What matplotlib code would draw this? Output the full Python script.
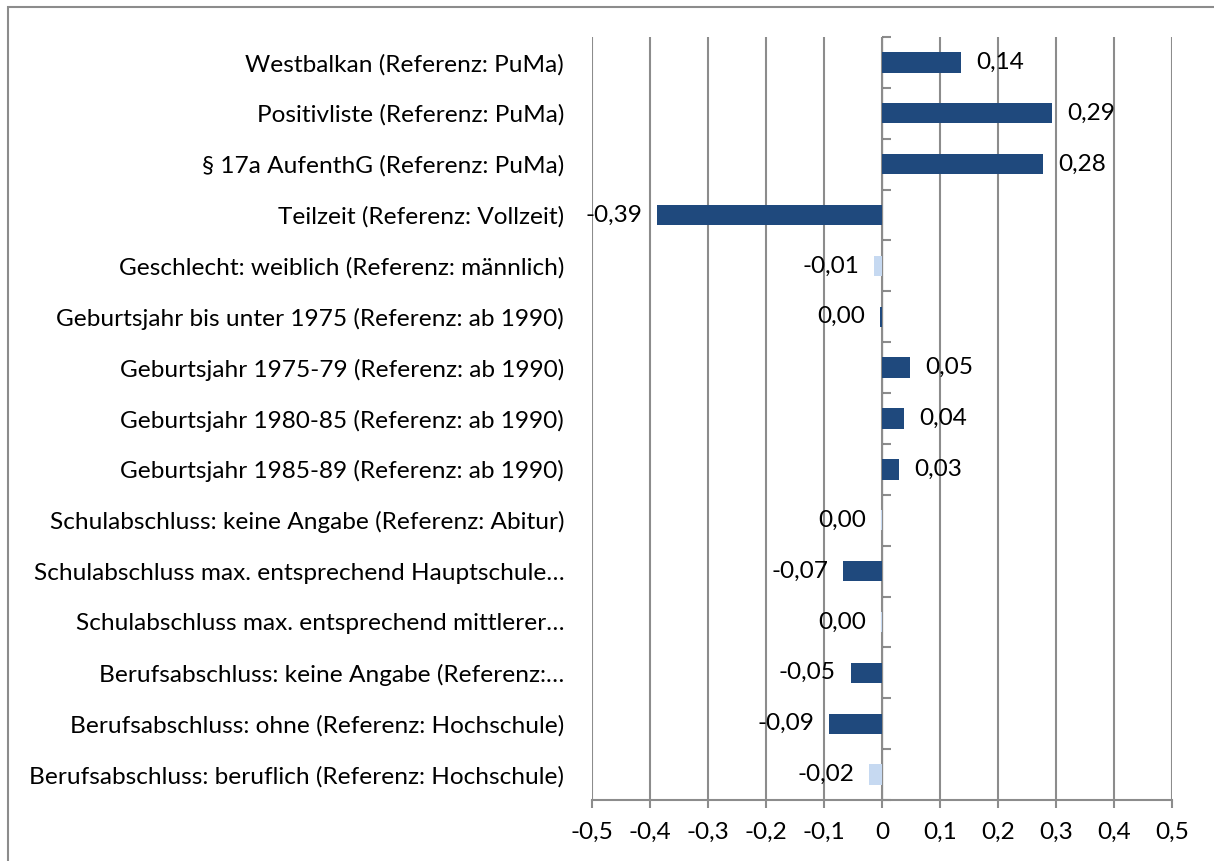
import matplotlib
matplotlib.use("Agg")
import matplotlib.pyplot as plt
from matplotlib.patches import Rectangle
import numpy as np

categories = [
    "Westbalkan (Referenz: PuMa)",
    "Positivliste (Referenz: PuMa)",
    "§ 17a AufenthG (Referenz: PuMa)",
    "Teilzeit (Referenz: Vollzeit)",
    "Geschlecht: weiblich (Referenz: männlich)",
    "Geburtsjahr bis unter 1975 (Referenz: ab 1990)",
    "Geburtsjahr 1975-79 (Referenz: ab 1990)",
    "Geburtsjahr 1980-85 (Referenz: ab 1990)",
    "Geburtsjahr 1985-89 (Referenz: ab 1990)",
    "Schulabschluss: keine Angabe (Referenz: Abitur)",
    "Schulabschluss max. entsprechend Hauptschule…",
    "Schulabschluss max. entsprechend mittlerer…",
    "Berufsabschluss: keine Angabe (Referenz:…",
    "Berufsabschluss: ohne (Referenz: Hochschule)",
    "Berufsabschluss: beruflich (Referenz: Hochschule)",
]
values = [0.136, 0.293, 0.278, -0.388, -0.014, -0.003, 0.048, 0.038, 0.029,
          -0.001, -0.067, -0.002, -0.054, -0.091, -0.022]
value_labels = ["0,14", "0,29", "0,28", "-0,39", "-0,01", "0,00", "0,05", "0,04",
                "0,03", "0,00", "-0,07", "0,00", "-0,05", "-0,09", "-0,02"]
significant = [True, True, True, True, False, True, True, True, True,
               False, True, False, True, True, False]
xticks = [-0.5, -0.4, -0.3, -0.2, -0.1, 0.0, 0.1, 0.2, 0.3, 0.4, 0.5]
xtick_labels = ["-0,5", "-0,4", "-0,3", "-0,2", "-0,1", "0", "0,1", "0,2", "0,3", "0,4", "0,5"]

DARK = "#1F497D"
LIGHT = "#C6D9F1"
GRID = "#8C8C8C"
FONT = "Lato"
FS = 17.6

W, H = 1214, 861
fig = plt.figure(figsize=(W / 100, H / 100), dpi=100)
fig.patch.set_facecolor("white")
# outer chart border
fig.add_artist(Rectangle((8 / W, -0.05), 1.1, 1 - 7 / H + 0.05, transform=fig.transFigure,
                         fill=False, edgecolor=GRID, linewidth=1.5))

ax = fig.add_axes([592 / W, 1 - 800 / H, 580 / W, 763 / H])
y = np.arange(len(categories))
colors = [DARK if s else LIGHT for s in significant]
ax.barh(y, values, height=0.4, color=colors, zorder=3)

ax.set_xlim(-0.5, 0.5)
ax.set_ylim(len(categories) - 0.5, -0.5)
ax.set_xticks(xticks)
ax.set_xticklabels(xtick_labels, fontsize=FS, family=FONT)
ax.xaxis.grid(True, color=GRID, linewidth=1.5, zorder=0)
ax.tick_params(axis="x", direction="out", length=6, width=1.5, color=GRID, pad=10)
ax.set_yticks(y)
ax.set_yticklabels(categories, fontsize=FS, family=FONT)
ax.tick_params(axis="y", length=0, pad=20)
for s in ["top", "right", "left"]:
    ax.spines[s].set_visible(False)
ax.spines["bottom"].set_color(GRID)
ax.spines["bottom"].set_linewidth(1.5)

# zero axis with category separator ticks
sec = ax.secondary_yaxis(0.5)
sec.set_yticks(np.arange(len(categories) + 1) - 0.5)
sec.set_yticklabels([])
sec.tick_params(axis="y", direction="out", length=6.5, width=1.5, color=GRID)
sec.spines["left"].set_color(GRID)
sec.spines["left"].set_linewidth(1.5)

for yi, v, lab in zip(y, values, value_labels):
    off = 15 if v >= 0 else -15
    ha = "left" if v >= 0 else "right"
    ax.annotate(lab, (v, yi), xytext=(off * 0.72, 0), textcoords="offset points",
                ha=ha, va="center", fontsize=FS, family=FONT, zorder=5)

fig.savefig("out.png", dpi=100)
